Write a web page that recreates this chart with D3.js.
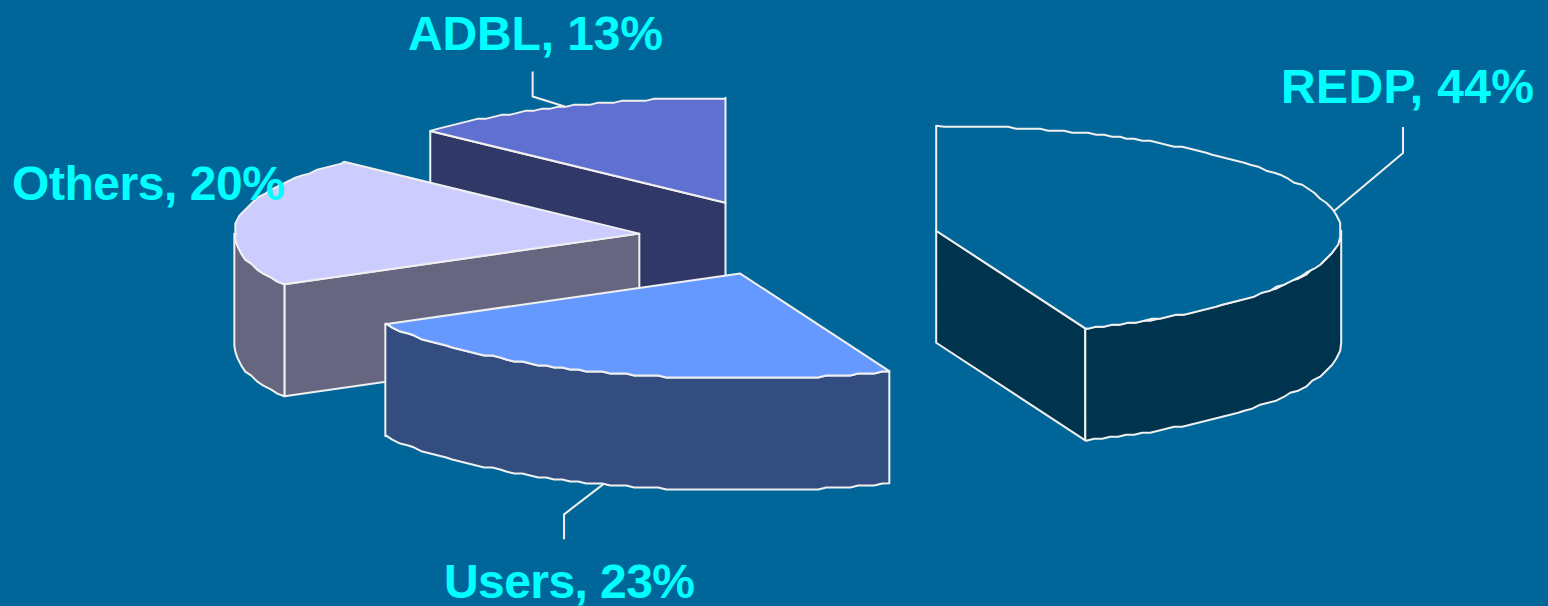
<!DOCTYPE html>
<html>
<head>
<meta charset="utf-8">
<script src="https://cdn.jsdelivr.net/npm/d3@7"></script>
<style>
  html, body { margin: 0; padding: 0; background: #006699; overflow: hidden; }
  text { font-family: "Liberation Sans", Arial, sans-serif; font-weight: bold; }
</style>
</head>
<body>
<svg></svg>
<script>
// Define data
const categories = ['REDP', 'Users', 'Others', 'ADBL'];
const shares = [44, 23, 20, 13];
const colors = ['#006699', '#6699FF', '#CCCCFF', '#6070D0'];

let width = 1548, height = 606;

// layout of the 3d pie
let cx = 788, cy = 238, rx = 405, ry = 105, depth = 112, explode = 0.37;
const stepLen = 8, snapXY = 2; // the outline in the original is a rough polygon

// small corrections of where each slice was dragged to
let nudge = {
    REDP: [1, 0],
    Users: [3, -1],
    Others: [0, 0.5],
    ADBL: [-3, 0.5]
};

// x, baseline and drawn width of each label
let labelPos = {
    REDP: { x: 1281, y: 103, w: 253 },
    Users: { x: 444, y: 598, w: 251 },
    Others: { x: 12, y: 200, w: 273 },
    ADBL: { x: 408, y: 50, w: 255 }
};

// elbows of the leader lines, relative to the rim point of the slice
let leaderPos = {
    REDP: [[69, -58], [69, -84]],
    Users: [[-39, 30], [-39, 55]],
    ADBL: [[-32, -10], [-32, -35]]
};

let svg = d3.select('svg')
    .attr('width', width)
    .attr('height', height)
    .style('display', 'block')
    .style('background', '#006699');

let xScale = d3.scaleLinear().domain([-1, 1]).range([-rx, rx]);
let yScale = d3.scaleLinear().domain([-1, 1]).range([ry, -ry]);

let pie = d3.pie().sort(null).value(d => d.share);
let slices = pie(categories.map((c, i) => ({ name: c, share: shares[i], color: colors[i] })));

let line = d3.line().curve(d3.curveLinear);

function rim(a) {
    return [xScale(Math.sin(a)), yScale(Math.cos(a))];
}

// walk the rim in steps of about the same length and snap them to a coarse grid
function rimPoints(a0, a1, dy) {
    let pts = [rim(a0)];
    let a = a0;
    while (a < a1) {
        a += stepLen / Math.hypot(rx * Math.cos(a), ry * Math.sin(a));
        if (a >= a1) break;
        let p = rim(a);
        pts.push([Math.round(p[0] / snapXY) * snapXY, Math.round(p[1] / snapXY) * snapXY]);
    }
    pts.push(rim(a1));
    return pts.map(p => [p[0], p[1] + dy]);
}

function darker(c) {
    let rgb = d3.rgb(c);
    return d3.rgb(rgb.r / 2, rgb.g / 2, rgb.b / 2).formatHex();
}

// ADBL and Others sit behind Users, REDP stands alone
let drawOrder = ['ADBL', 'Others', 'Users', 'REDP'];
let ordered = drawOrder.map(n => slices.find(s => s.data.name === n));

let groups = svg.selectAll('g.slice')
    .data(ordered)
    .enter()
    .append('g')
    .attr('class', 'slice')
    .attr('transform', d => {
        let mid = (d.startAngle + d.endAngle) / 2;
        let n = nudge[d.data.name];
        return `translate(${cx + n[0] + explode * xScale(Math.sin(mid))}, ${cy + n[1] + explode * yScale(Math.cos(mid))})`;
    })
    .attr('stroke', '#F0F0F0')
    .attr('stroke-width', 2)
    .attr('stroke-linejoin', 'round');

groups.each(function(d) {
    let g = d3.select(this);
    let side = darker(d.data.color);

    // cut faces that look towards the viewer
    [d.startAngle, d.endAngle].forEach((a, i) => {
        let facing = i === 0 ? Math.sin(a) < -1e-6 : Math.sin(a) > 1e-6;
        if (!facing) return;
        let p = rim(a);
        g.append('path')
            .attr('d', line([[0, 0], p, [p[0], p[1] + depth], [0, depth]]) + 'Z')
            .attr('fill', side);
    });

    // outer wall, only the front half of the rim
    let a0 = Math.max(d.startAngle, Math.PI / 2);
    let a1 = Math.min(d.endAngle, Math.PI * 1.5);
    if (a1 > a0) {
        let top = rimPoints(a0, a1, 0);
        let bottom = rimPoints(a0, a1, depth).reverse();
        g.append('path')
            .attr('d', line(top.concat(bottom)) + 'Z')
            .attr('fill', side);
    }

    // top of the slice
    g.append('path')
        .attr('d', line([[0, 0]].concat(rimPoints(d.startAngle, d.endAngle, 0))) + 'Z')
        .attr('fill', d.data.color);

    // leader line
    let elbows = leaderPos[d.data.name];
    if (elbows) {
        let mid = (d.startAngle + d.endAngle) / 2;
        let p = rim(mid);
        if (Math.cos(mid) < 0) p = [p[0], p[1] + depth];
        g.append('path')
            .attr('d', line([p].concat(elbows.map(e => [p[0] + e[0], p[1] + e[1]]))))
            .attr('fill', 'none');
    }
});

svg.selectAll('text.label')
    .data(slices)
    .enter()
    .append('text')
    .attr('class', 'label')
    .attr('x', d => labelPos[d.data.name].x)
    .attr('y', d => labelPos[d.data.name].y)
    .attr('textLength', d => labelPos[d.data.name].w)
    .attr('lengthAdjust', 'spacing')
    .attr('fill', '#00FFFF')
    .style('font-size', '48px')
    .text(d => `${d.data.name}, ${d.data.share}%`);
</script>
</body>
</html>
